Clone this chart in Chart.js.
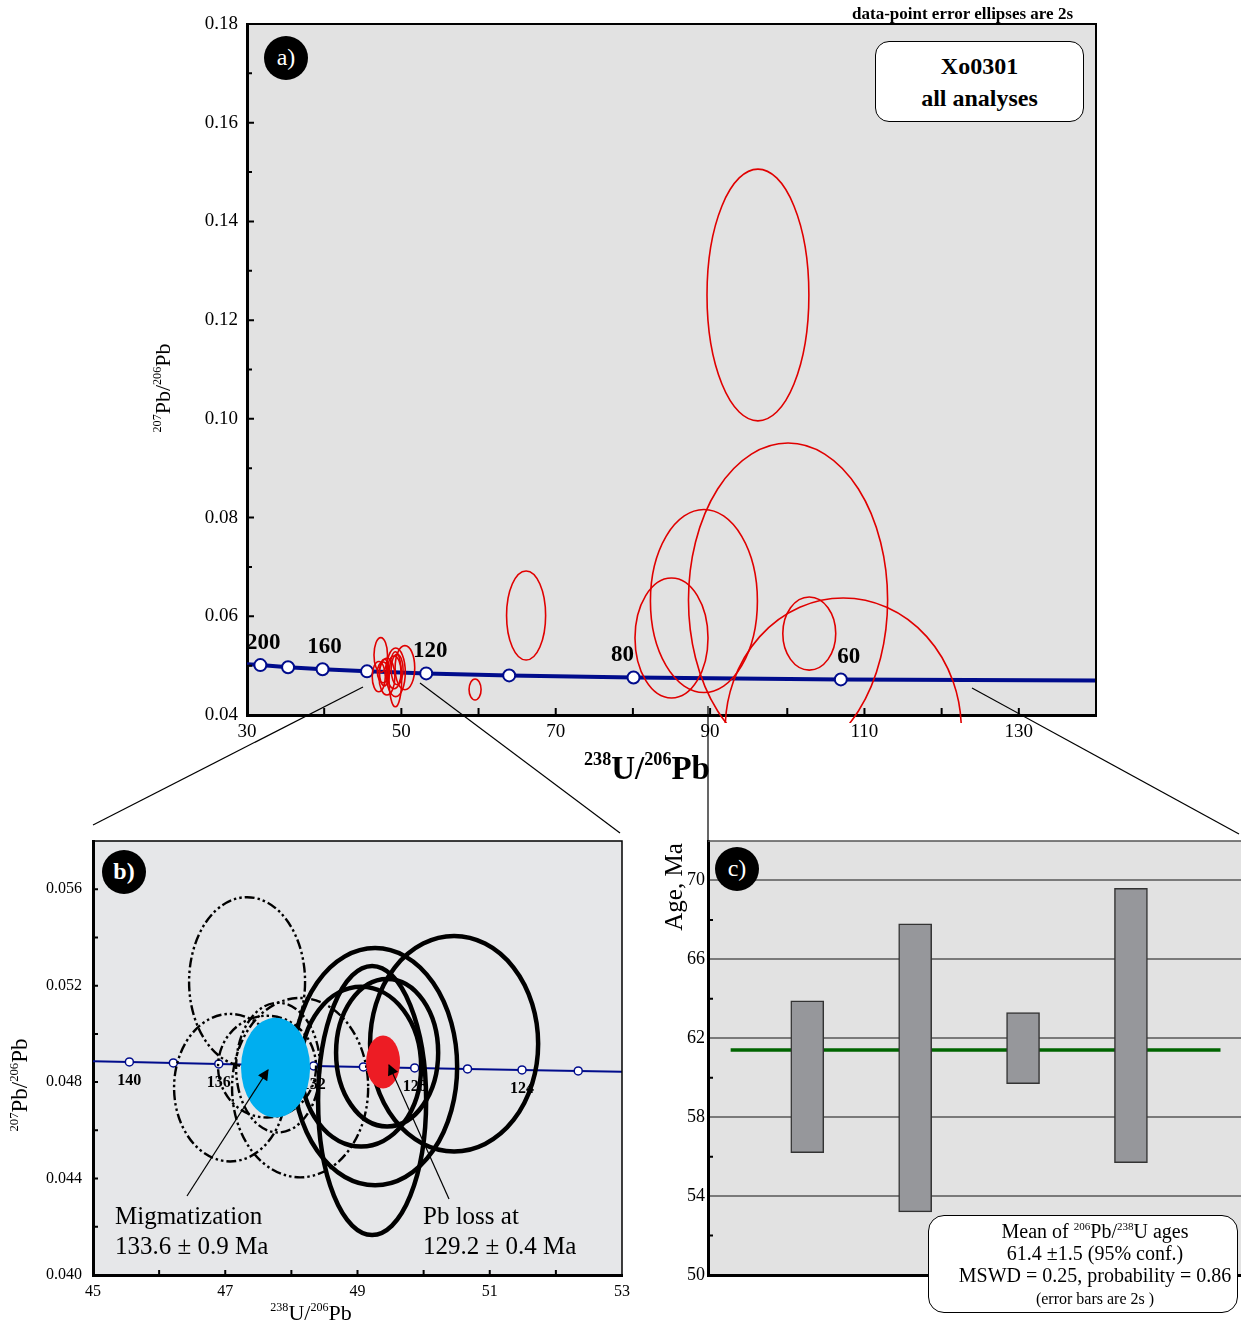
<!DOCTYPE html>
<html>
<head>
<meta charset="utf-8">
<script src="https://cdn.jsdelivr.net/npm/chart.js@4.4.1/dist/chart.umd.min.js"></script>
<style>
  body { margin: 0; background: #fff; font-family: 'Liberation Serif', 'Times New Roman', serif; color: #000; }
  #page { position: relative; width: 1241px; height: 1327px; overflow: hidden; }
  canvas, .txt, svg { position: absolute; }
  .txt { white-space: nowrap; }
  sup { font-size: 0.55em; vertical-align: 0.75em; line-height: 0; }
  .badge { position: absolute; width: 44px; height: 44px; border-radius: 50%; background: #000; color: #fff;
           text-align: center; line-height: 42px; font-size: 24px; }
  .rot { transform: rotate(-90deg); text-align: center; }
</style>
</head>
<body>
<div id="page">
  <canvas id="chartA" width="1241" height="800" style="left:0;top:0"></canvas>
  <canvas id="chartB" width="640" height="527" style="left:0;top:800px"></canvas>
  <canvas id="chartC" width="601" height="527" style="left:640px;top:800px"></canvas>

  <svg width="1241" height="1327" style="left:0;top:0">
    <defs>
      <marker id="head" viewBox="0 0 10 10" refX="9" refY="5" markerWidth="14" markerHeight="11" markerUnits="userSpaceOnUse" orient="auto">
        <path d="M0,0 L10,5 L0,10 z" fill="#000"/>
      </marker>
    </defs>
    <g stroke="#000" stroke-width="1.2" fill="none">
      <line x1="363" y1="687" x2="93" y2="825"/>
      <line x1="420" y1="683" x2="620" y2="833"/>
      <line x1="708" y1="706" x2="708" y2="841"/>
      <line x1="972" y1="688" x2="1239" y2="834"/>
      <line x1="187" y1="1196" x2="268" y2="1070" marker-end="url(#head)"/>
      <line x1="449" y1="1199" x2="389" y2="1065" marker-end="url(#head)"/>
    </g>
  </svg>

  <!-- panel a -->
  <div class="badge" style="left:264px;top:36px">a)</div>
  <div class="txt" style="left:700px;width:373px;top:3px;text-align:right;font-weight:bold;font-size:17px;line-height:22px">data-point error ellipses are 2s</div>
  <div class="txt" style="left:875px;top:41px;width:207px;border:1.5px solid #000;border-radius:14px;background:#fff;text-align:center;font-weight:bold;font-size:24px;line-height:32px;padding-top:8px;box-sizing:content-box;height:71px">Xo0301<br>all analyses</div>
  <div class="txt" style="left:447px;width:400px;top:746px;text-align:center;font-weight:bold;font-size:33px;line-height:44px"><sup>238</sup>U/<sup>206</sup>Pb</div>
  <div class="txt rot" style="left:63px;top:373px;width:200px;font-size:22px;line-height:30px"><sup>207</sup>Pb/<sup>206</sup>Pb</div>

  <!-- panel b -->
  <div class="badge" style="left:102px;top:850px;font-weight:bold">b)</div>
  <div class="txt" style="left:115px;top:1201px;font-size:25px;line-height:30px">Migmatization<br>133.6 ± 0.9 Ma</div>
  <div class="txt" style="left:423px;top:1201px;font-size:25px;line-height:30px">Pb loss at<br>129.2 ± 0.4 Ma</div>
  <div class="txt rot" style="left:-80px;top:1070px;width:200px;font-size:23px;line-height:30px"><sup>207</sup>Pb/<sup>206</sup>Pb</div>
  <div class="txt" style="left:211px;width:200px;top:1298px;text-align:center;font-size:22px;line-height:30px"><sup>238</sup>U/<sup>206</sup>Pb</div>

  <!-- panel c -->
  <div class="badge" style="left:715px;top:847px">c)</div>
  <div class="txt rot" style="left:574px;top:872px;width:200px;font-size:25px;line-height:30px">Age, Ma</div>
  <div class="txt" style="left:928px;top:1215px;width:284px;border:1.5px solid #000;border-radius:16px;background:#fff;text-align:center;font-size:20px;line-height:22px;padding-left:24px;padding-top:4px;box-sizing:content-box;height:92px">
    Mean of <sup>206</sup>Pb/<sup>238</sup>U ages<br>61.4 ±1.5 (95% conf.)<br>MSWD = 0.25, probability = 0.86<br><span style="font-size:16px;line-height:26px">(error bars are 2s )</span>
  </div>
</div>

<script>
// ---------- data ----------

// panel a: concordia, ages in Ma
const concAgesA = [200, 180, 160, 140, 120, 100, 80, 60];
const concXA = [31.73, 35.32, 39.79, 45.55, 53.22, 63.97, 80.08, 106.94];
const concYA = [0.05011, 0.04968, 0.04926, 0.04884, 0.04843, 0.04802, 0.04761, 0.04721];
const concEndsA = [[30, 0.0503], [140, 0.0470]];
const concLabelsA = [200, 160, 120, 80, 60];

// panel a: error ellipses outside the cluster [cx, cy, rx, ry]
const spotsA = [
  [96.2, 0.1251, 6.6, 0.0255],
  [100.1, 0.0633, 12.9, 0.0318],
  [107.25, 0.0370, 15.3, 0.0267],
  [89.2, 0.0631, 6.93, 0.01854],
  [85.0, 0.0556, 4.73, 0.01216],
  [102.85, 0.0565, 3.43, 0.0074],
  [66.16, 0.06016, 2.53, 0.00902],
  [59.55, 0.04517, 0.78, 0.00213]
];

const xTicksA = [30, 50, 70, 90, 110, 130];
const xMarksA = [40, 50, 60, 70, 80, 90, 100, 110, 120, 130];
const yTicksA = [0.04, 0.06, 0.08, 0.10, 0.12, 0.14, 0.16, 0.18];
const yMinorA = [0.05, 0.07, 0.09, 0.11, 0.13, 0.15, 0.17];

// panel b: concordia every 2 Ma
const concAgesB = [140, 138, 136, 134, 132, 130, 128, 126, 124, 122];
const concXB = [45.55, 46.215, 46.902, 47.609, 48.337, 49.089, 49.865, 50.664, 51.488, 52.338];
const concYB = [0.048836, 0.048796, 0.048754, 0.048712, 0.048671, 0.048629, 0.048589, 0.048547, 0.048505, 0.048465];
const concEndsB = [[45, 0.04887], [53, 0.04843]];
const concLabelsB = [140, 136, 132, 128, 124];

// panel b: cluster ellipses [cx, cy, rx, ry]
const solidB = [
  [50.461, 0.04959, 1.271, 0.00447],
  [49.266, 0.04864, 1.241, 0.00492],
  [49.221, 0.04724, 0.817, 0.00558],
  [49.448, 0.04922, 0.772, 0.00306],
  [49.054, 0.04864, 0.908, 0.00331]
];
const dashB = [
  [47.330, 0.05216, 0.877, 0.00351],
  [47.073, 0.04777, 0.847, 0.00306],
  [47.799, 0.04860, 0.635, 0.00269],
  [48.132, 0.04777, 1.029, 0.00372],
  [47.632, 0.04864, 0.741, 0.00211]
];
const migmatB = [47.761, 0.0486, 0.522, 0.00207];
const pbLossB = [49.387, 0.04883, 0.257, 0.0011];

const xTicksB = [45, 47, 49, 51, 53];
const xMarksB = [46, 47, 48, 49, 50, 51, 52];
const yTicksB = [0.040, 0.044, 0.048, 0.052, 0.056];
const yMarksB = [0.042, 0.044, 0.046, 0.048, 0.050, 0.052, 0.054, 0.056];

// panel c: 206Pb/238U ages of the young spots
const spotsC = [1, 2, 3, 4];
const lowC = [56.2, 53.2, 59.7, 55.7];
const highC = [63.9, 67.8, 63.3, 69.6];
const meanC = 61.4;
const meanSpanC = [0.29, 4.83];
const yTicksC = [50, 54, 58, 62, 66, 70];
const yMinorC = [52, 56, 60, 64, 68];

// ---------- helpers ----------
const SERIF = "'Liberation Serif', 'Times New Roman', serif";
const BLUE = '#000c8c';
const RED = '#e00000';

function fixedTicks(list) {
  return s => { s.ticks = list.map(v => ({ value: v })); };
}

function ellipse(chart, e) {
  const { x, y } = chart.scales;
  const px = x.getPixelForValue(e[0]);
  const py = y.getPixelForValue(e[1]);
  const rx = Math.abs(x.getPixelForValue(e[0] + e[2]) - px);
  const ry = Math.abs(y.getPixelForValue(e[1] + e[3]) - py);
  chart.ctx.beginPath();
  chart.ctx.ellipse(px, py, rx, ry, 0, 0, Math.PI * 2);
}

// shift: optional per-age horizontal nudge of the label
function ageLabels(chart, ages, labels, dx, dy, font, shift) {
  const meta = chart.getDatasetMeta(1);
  const ctx = chart.ctx;
  ctx.save();
  ctx.font = font;
  ctx.fillStyle = '#000';
  ctx.textAlign = 'center';
  ctx.textBaseline = 'middle';
  labels.forEach(age => {
    const pt = meta.data[ages.indexOf(age)];
    const sx = shift && shift[age] !== undefined ? shift[age] : dx;
    ctx.fillText(String(age), pt.x + sx, pt.y + dy);
  });
  ctx.restore();
}

function inwardTicks(chart, xs, ys, len, yLen) {
  const { ctx, chartArea: a, scales } = chart;
  ctx.save();
  ctx.strokeStyle = '#000';
  ctx.lineWidth = 2;
  ctx.beginPath();
  xs.forEach(v => {
    const p = scales.x.getPixelForValue(v);
    ctx.moveTo(p, a.bottom); ctx.lineTo(p, a.bottom - len);
  });
  ys.forEach(v => {
    const p = scales.y.getPixelForValue(v);
    const l = yLen ? yLen(v) : len;
    ctx.moveTo(a.left, p); ctx.lineTo(a.left + l, p);
  });
  ctx.stroke();
  ctx.restore();
}

function background(color) {
  return {
    id: 'bg',
    beforeDraw(chart) {
      const { ctx, chartArea: a } = chart;
      ctx.save();
      ctx.fillStyle = color;
      ctx.fillRect(a.left, a.top, a.right - a.left, a.bottom - a.top);
      ctx.restore();
    }
  };
}

function frame(width, color, right) {
  return {
    id: 'frame',
    afterDraw(chart) {
      const { ctx, chartArea: a } = chart;
      ctx.save();
      ctx.strokeStyle = color;
      ctx.lineWidth = width;
      ctx.beginPath();
      ctx.moveTo(a.left, a.top);
      ctx.lineTo(a.right, a.top);
      if (right) ctx.lineTo(a.right, a.bottom);
      ctx.stroke();
      ctx.restore();
    }
  };
}

function axisOpts(min, max, ticks, fontSize, pad, fit, isX, fmt) {
  return {
    type: 'linear', min, max,
    afterFit: s => { if (isX) s.height = fit; else s.width = fit; },
    afterBuildTicks: fixedTicks(ticks),
    grid: { display: false, drawTicks: false },
    border: { display: true, color: '#000', width: 3 },
    ticks: { color: '#000', font: { family: SERIF, size: fontSize }, padding: pad, callback: fmt }
  };
}

const common = {
  responsive: false,
  animation: false,
  plugins: { legend: { display: false }, tooltip: { enabled: false } }
};

// ---------- panel a ----------
const clusterA = solidB.concat(dashB);

new Chart(document.getElementById('chartA'), {
  type: 'scatter',
  data: {
    datasets: [
      {
        type: 'line',
        data: [concEndsA[0]].concat(concXA.map((x, i) => [x, concYA[i]]), [concEndsA[1]]).map(p => ({ x: p[0], y: p[1] })),
        borderColor: BLUE, borderWidth: 4, pointRadius: 0, fill: false, order: 2
      },
      {
        data: concXA.map((x, i) => ({ x, y: concYA[i] })),
        pointRadius: 6, pointBackgroundColor: '#fff', pointBorderColor: BLUE, pointBorderWidth: 2, order: 1
      }
    ]
  },
  options: Object.assign({}, common, {
    layout: { padding: { top: 24, right: 145, left: 0, bottom: 0 } },
    scales: {
      x: axisOpts(30, 140, xTicksA, 19, 6, 85, true, v => String(v)),
      y: axisOpts(0.04, 0.18, yTicksA, 19, 9, 247, false, v => v.toFixed(2))
    }
  }),
  plugins: [background('#e2e2e2'), frame(2, '#000', true), {
    id: 'marksA',
    afterDatasetsDraw(chart) {
      ageLabels(chart, concAgesA, concLabelsA, 2, -22, 'bold 23px ' + SERIF, { 200: 3, 120: 4, 80: -11, 60: 8 });
      const { ctx, chartArea: a } = chart;
      ctx.save();
      ctx.beginPath();
      ctx.rect(a.left, a.top, a.right - a.left, a.bottom - a.top + 8);
      ctx.clip();
      ctx.strokeStyle = RED;
      ctx.lineWidth = 1.6;
      spotsA.concat(clusterA).forEach(e => { ellipse(chart, e); ctx.stroke(); });
      ctx.restore();
    },
    afterDraw(chart) {
      inwardTicks(chart, xMarksA, yTicksA.concat(yMinorA), 7, v => yMinorA.includes(v) ? 5 : 7);
    }
  }]
});

// ---------- panel b ----------
new Chart(document.getElementById('chartB'), {
  type: 'scatter',
  data: {
    datasets: [
      {
        type: 'line',
        data: [concEndsB[0]].concat(concXB.map((x, i) => [x, concYB[i]]), [concEndsB[1]]).map(p => ({ x: p[0], y: p[1] })),
        borderColor: BLUE, borderWidth: 2, pointRadius: 0, fill: false, order: 2
      },
      {
        data: concXB.map((x, i) => ({ x, y: concYB[i] })),
        pointRadius: 4, pointBackgroundColor: '#fff', pointBorderColor: BLUE, pointBorderWidth: 1.5, order: 1
      }
    ]
  },
  options: Object.assign({}, common, {
    layout: { padding: { top: 41, right: 18, left: 0, bottom: 0 } },
    scales: {
      x: axisOpts(45, 53, xTicksB, 16, 7, 52, true, v => String(v)),
      y: axisOpts(0.040, 0.058, yTicksB, 16, 11, 93, false, v => v.toFixed(3))
    }
  }),
  plugins: [background('#e6e7e9'), frame(1.5, '#000', true), {
    id: 'marksB',
    afterDatasetsDraw(chart) {
      ageLabels(chart, concAgesB, concLabelsB, 0, 19, 'bold 16px ' + SERIF);
      const { ctx, chartArea: a } = chart;
      ctx.save();
      ctx.beginPath();
      ctx.rect(a.left, a.top, a.right - a.left, a.bottom - a.top);
      ctx.clip();
      ctx.strokeStyle = '#000';
      ctx.lineWidth = 2.4;
      ctx.setLineDash([10, 3, 2.5, 3, 2.5, 3]);
      dashB.forEach(e => { ellipse(chart, e); ctx.stroke(); });
      ctx.setLineDash([]);
      ctx.lineWidth = 4.5;
      solidB.forEach(e => { ellipse(chart, e); ctx.stroke(); });
      ctx.fillStyle = '#00aeef';
      ellipse(chart, migmatB); ctx.fill();
      ctx.fillStyle = '#ed1c24';
      ellipse(chart, pbLossB); ctx.fill();
      ctx.restore();
    },
    afterDraw(chart) {
      inwardTicks(chart, xMarksB, yMarksB, 5);
    }
  }]
});

// ---------- panel c ----------
new Chart(document.getElementById('chartC'), {
  type: 'bar',
  data: {
    datasets: [
      {
        data: spotsC.map((x, i) => ({ x, y: [lowC[i], highC[i]] })),
        backgroundColor: '#96979b', borderColor: '#333', borderWidth: 1.5,
        borderSkipped: false, barThickness: 33, order: 1
      },
      {
        type: 'line',
        data: meanSpanC.map(x => ({ x, y: meanC })),
        borderColor: '#006400', borderWidth: 3.5, pointRadius: 0, fill: false, order: 2
      }
    ]
  },
  options: Object.assign({}, common, {
    layout: { padding: { top: 41, right: 0, left: 0, bottom: 0 } },
    scales: {
      x: {
        type: 'linear', min: 0.08, max: 5.02, offset: false,
        afterFit: s => { s.height = 52; },
        grid: { display: false, drawTicks: false },
        border: { display: true, color: '#000', width: 3 },
        ticks: { display: false }
      },
      y: {
        type: 'linear', min: 50, max: 72,
        afterFit: s => { s.width = 68; },
        afterBuildTicks: fixedTicks(yTicksC),
        grid: { display: true, color: '#7a7a7a', lineWidth: 2, drawTicks: false },
        border: { display: true, color: '#000', width: 3 },
        ticks: { color: '#000', font: { family: SERIF, size: 18 }, padding: 3 }
      }
    }
  }),
  plugins: [background('#e2e2e2'), frame(1.5, '#555', false), {
    id: 'marksC',
    afterDraw(chart) {
      inwardTicks(chart, [], yMinorC, 5);
    }
  }]
});
</script>
</body>
</html>
